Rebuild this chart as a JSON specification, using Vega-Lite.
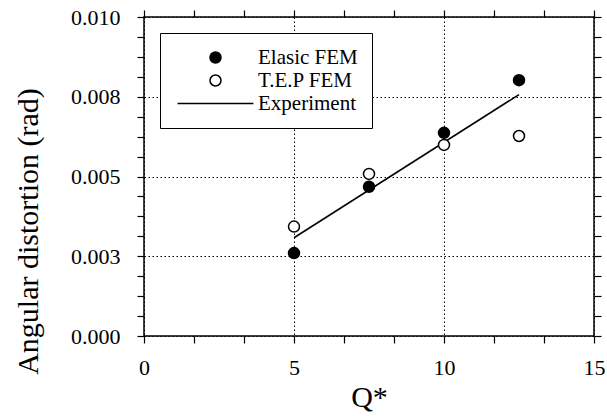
{
  "$schema": "https://vega.github.io/schema/vega-lite/v6.json",
  "width": 450,
  "height": 319,
  "autosize": {"type": "none"},
  "padding": {"left": 144, "top": 17, "right": 13, "bottom": 80},
  "background": "white",
  "config": {
    "font": "Liberation Serif",
    "view": {"stroke": "black", "strokeWidth": 1.5},
    "axis": {
      "domain": false,
      "labelFont": "Liberation Serif",
      "labelFontSize": 22,
      "labelColor": "black",
      "labelFlush": false,
      "labelOverlap": false,
      "gridColor": "black",
      "gridDash": [1.5, 2.5],
      "gridWidth": 1,
      "titleFont": "Liberation Serif",
      "titleColor": "black",
      "titleFontWeight": "normal",
      "titleFontSize": 30
    },
    "legend": {
      "labelFont": "Liberation Serif",
      "labelFontSize": 21,
      "labelColor": "black",
      "labelLimit": 400,
      "strokeColor": "black",
      "fillColor": "white",
      "cornerRadius": 0,
      "padding": 14,
      "rowPadding": 1,
      "symbolSize": 121,
      "symbolOffset": 31,
      "labelOffset": 32
    }
  },
  "data": {
    "values": [
      {"series": "Elasic FEM", "q": 5, "angle": 0.0026},
      {"series": "Elasic FEM", "q": 7.5, "angle": 0.00468},
      {"series": "Elasic FEM", "q": 10, "angle": 0.00637},
      {"series": "Elasic FEM", "q": 12.5, "angle": 0.00802},
      {"series": "T.E.P FEM", "q": 5, "angle": 0.00343},
      {"series": "T.E.P FEM", "q": 7.5, "angle": 0.00508},
      {"series": "T.E.P FEM", "q": 10, "angle": 0.00599},
      {"series": "T.E.P FEM", "q": 12.5, "angle": 0.00627},
      {"series": "Experiment", "q": 5, "angle": 0.00308},
      {"series": "Experiment", "q": 12.5, "angle": 0.00757}
    ]
  },
  "layer": [
    {
      "transform": [{"filter": "datum.series == 'Experiment'"}],
      "mark": {"type": "line", "color": "black", "strokeWidth": 1.5},
      "encoding": {
        "x": {
          "field": "q", "type": "quantitative",
          "scale": {"domain": [0, 15], "nice": false, "zero": false},
          "axis": {
            "orient": "bottom",
            "title": "Q*",
            "titlePadding": 4,
            "ticks": false,
            "values": [0, 5, 10, 15],
            "format": "d",
            "labelPadding": 21,
            "grid": true
          }
        },
        "y": {
          "field": "angle", "type": "quantitative",
          "scale": {"domain": [0, 0.01], "nice": false, "zero": false},
          "axis": {
            "orient": "left",
            "title": "Angular distortion (rad)",
            "titlePadding": 27,
            "titleY": 214,
            "ticks": false,
            "values": [0, 0.0025, 0.005, 0.0075, 0.01],
            "labelExpr": "format(datum.value + 0.0000001, '.3f')",
            "labelPadding": 24,
            "grid": true
          }
        }
      }
    },
    {
      "transform": [{"filter": "datum.series == 'Elasic FEM'"}],
      "mark": {"type": "point", "stroke": "black", "strokeWidth": 1.5, "size": 121, "opacity": 1},
      "encoding": {
        "x": {
          "field": "q", "type": "quantitative",
          "axis": {
            "orient": "top", "title": null, "labels": false, "grid": false,
            "ticks": true, "tickSize": 7, "tickColor": "black", "tickWidth": 1.2,
            "encode": {"ticks": {"update": {"y2": {"value": 7}}}},
            "values": [0, 1.6667, 3.3333, 5, 6.6667, 8.3333, 10, 11.6667, 13.3333, 15]
          }
        },
        "y": {
          "field": "angle", "type": "quantitative",
          "axis": {
            "orient": "right", "title": null, "labels": false, "grid": false,
            "ticks": true, "tickSize": 7, "tickColor": "black", "tickWidth": 1.2,
            "encode": {"ticks": {"update": {"x2": {"value": -7}}}},
            "values": [0, 0.000625, 0.00125, 0.001875, 0.0025, 0.003125, 0.00375, 0.004375, 0.005, 0.005625, 0.00625, 0.006875, 0.0075, 0.008125, 0.00875, 0.009375, 0.01]
          }
        },
        "fill": {
          "field": "series", "type": "nominal",
          "scale": {"domain": ["Elasic FEM", "T.E.P FEM", "Experiment"], "range": ["black", "white", "transparent"]},
          "legend": null
        },
        "shape": {
          "field": "series", "type": "nominal",
          "scale": {"domain": ["Elasic FEM", "T.E.P FEM", "Experiment"], "range": ["circle", "circle", "M-6.9,0L6.9,0"]},
          "legend": {"title": null, "orient": "none", "legendX": 16, "legendY": 16,
            "encode": {
              "legend": {"update": {"strokeWidth": {"value": 2}}},
              "symbols": {"update": {"fill": {"scale": "fill", "field": "value"}, "stroke": {"value": "black"}, "strokeWidth": {"value": 1.5}, "opacity": {"value": 1}}}}}
        }
      }
    },
    {
      "transform": [{"filter": "datum.series == 'T.E.P FEM'"}],
      "mark": {"type": "point", "stroke": "black", "strokeWidth": 1.5, "size": 121, "opacity": 1},
      "encoding": {
        "x": {
          "field": "q", "type": "quantitative",
          "axis": {
            "orient": "bottom", "title": null, "labels": false, "grid": false,
            "ticks": true, "tickSize": 7, "tickColor": "black", "tickWidth": 1.2,
            "encode": {"ticks": {"update": {"y2": {"value": -7}}}},
            "values": [0, 1.6667, 3.3333, 5, 6.6667, 8.3333, 10, 11.6667, 13.3333, 15]
          }
        },
        "y": {
          "field": "angle", "type": "quantitative",
          "axis": {
            "orient": "left", "title": null, "labels": false, "grid": false,
            "ticks": true, "tickSize": 7, "tickColor": "black", "tickWidth": 1.2,
            "encode": {"ticks": {"update": {"x2": {"value": 7}}}},
            "values": [0, 0.000625, 0.00125, 0.001875, 0.0025, 0.003125, 0.00375, 0.004375, 0.005, 0.005625, 0.00625, 0.006875, 0.0075, 0.008125, 0.00875, 0.009375, 0.01]
          }
        },
        "fill": {"field": "series", "type": "nominal", "legend": null},
        "shape": {"field": "series", "type": "nominal"}
      }
    }
  ],
  "resolve": {"axis": {"x": "independent", "y": "independent"}}
}
